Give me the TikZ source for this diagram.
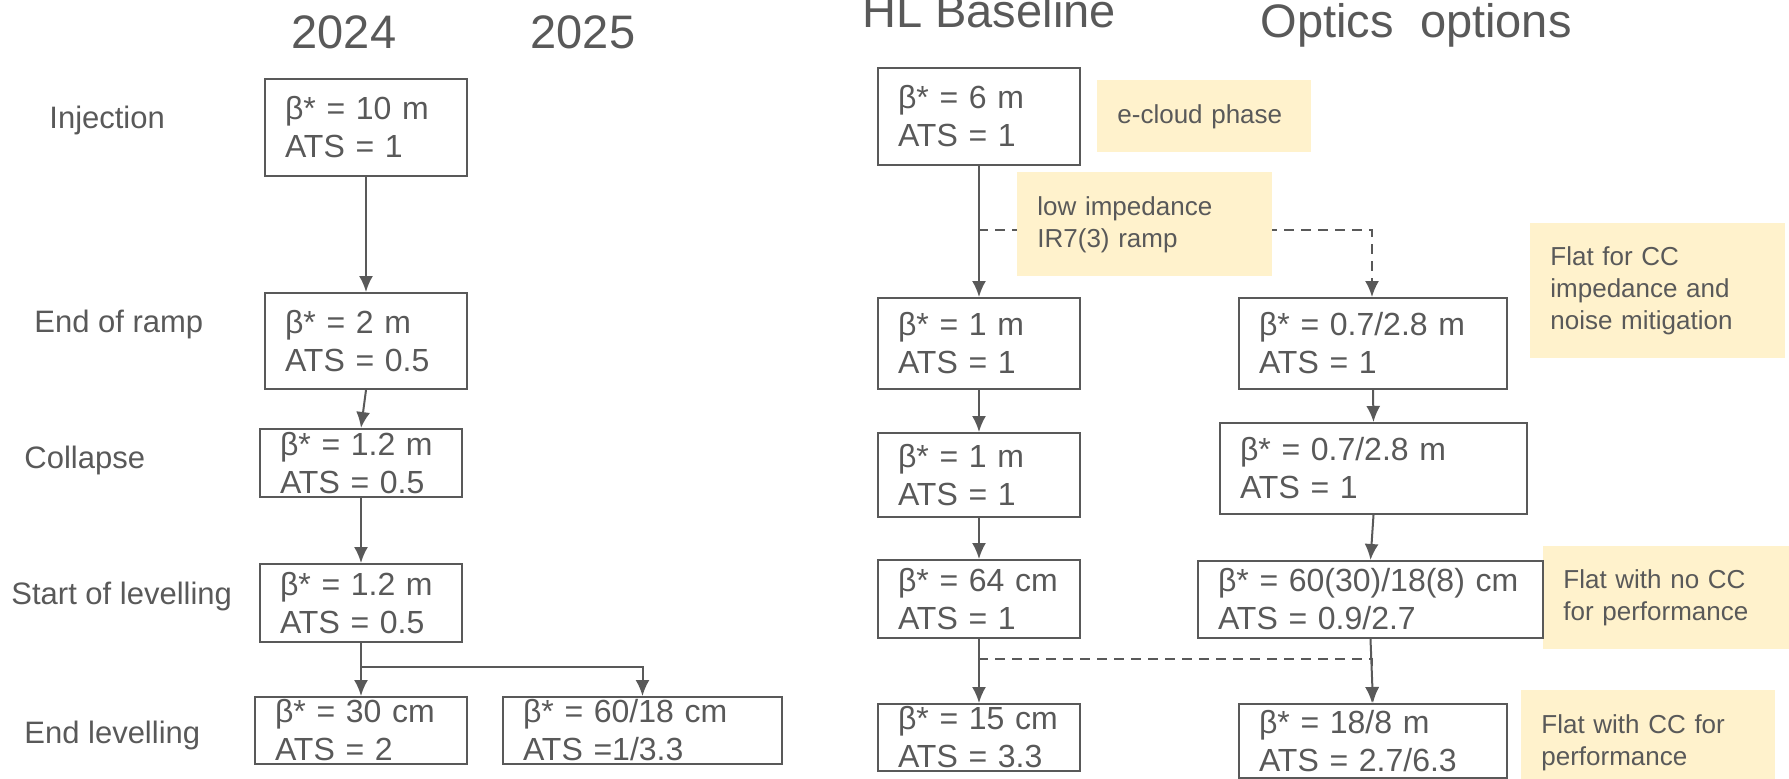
\documentclass[tikz,border=0pt]{standalone}
\usepackage{fontspec}
\setmainfont{Liberation Sans}
\usetikzlibrary{arrows.meta}
\definecolor{txt}{HTML}{595959}
\definecolor{notefill}{HTML}{FFF2CC}
\begin{document}
\begin{tikzpicture}[x=0.5pt,y=-0.5pt,
  every node/.style={text=txt},
  box/.style={draw=txt, line width=1pt, fill=white, anchor=north west, inner xsep=10pt, inner ysep=0pt,
    align=left, font=\fontsize{16}{19}\selectfont},
  notebox/.style={fill=notefill, anchor=north west, inner xsep=10pt, inner ysep=0pt,
    align=left, font=\fontsize{13}{16}\selectfont},
  lbl/.style={anchor=base west, inner sep=0pt, font=\fontsize{15.5}{19}\selectfont},
  head/.style={inner sep=0pt, font=\fontsize{23.5}{28}\selectfont},
  arr/.style={draw=txt, line width=1pt, -{Latex[length=8pt,width=7pt]}},
  darr/.style={arr, dash pattern=on 5pt off 3.5pt}]
\useasboundingbox (0,0) rectangle (1789,778);
\clip (0,0) rectangle (1789,778);

% headings
\node[head, anchor=base] (h2024) at (344,48) {2024};
\node[head, anchor=base] (h2025) at (583,48) {2025};
\node[head, anchor=base west] (hHL) at (862,27) {HL Baseline};
\node[head, anchor=base east] (hOpt) at (1572,37) {Optics\ \ options};

% row labels
\node[lbl] (lInj) at (49,128) {Injection};
\node[lbl] (lRamp) at (34,332) {End of ramp};
\node[lbl] (lColl) at (24,468) {Collapse};
\node[lbl] (lStart) at (11,604) {Start of levelling};
\node[lbl] (lEnd) at (24,743) {End levelling};

% dashed connectors (under the notes)
\coordinate (d1) at (978,230);
\coordinate (d2) at (978,659);
\draw[darr] (d1) -| (1372,297);
\draw[darr] (d2) -| (1372,703);

% notes
\node[notebox, text width=87pt, minimum height=36pt] (n1) at (1097,80) {e-cloud phase};
\node[notebox, text width=107.5pt, minimum height=52pt] (n2) at (1017,172) {low impedance\\IR7(3) ramp};
\node[notebox, text width=107.5pt, minimum height=67.5pt] (n3) at (1530,223) {Flat for CC\\impedance and\\noise mitigation};
\node[notebox, text width=103pt, minimum height=51.5pt] (n4) at (1543,546) {Flat with no CC\\for performance};
\node[notebox, text width=107pt, minimum height=52.5pt] (n5) at (1521,690) {Flat with CC for\\performance};

% left column (2024 / 2025)
\node[box, text width=81pt, minimum height=48.5pt] (A) at (264,78) {β* = 10 m\\ATS = 1};
\node[box, text width=81pt, minimum height=48pt] (B) at (264,292) {β* = 2 m\\ATS = 0.5};
\node[box, text width=81pt, minimum height=34pt] (C) at (259,428) {β* = 1.2 m\\ATS = 0.5};
\node[box, text width=81pt, minimum height=39pt] (D) at (259,563) {β* = 1.2 m\\ATS = 0.5};
\node[box, text width=86pt, minimum height=33.5pt] (E) at (254,696) {β* = 30 cm\\ATS = 2};
\node[box, text width=119.5pt, minimum height=33.5pt] (F) at (502,696) {β* = 60/18 cm\\ATS =1/3.3};

% HL baseline column
\node[box, text width=81pt, minimum height=48.5pt] (H1) at (877,67) {β* = 6 m\\ATS = 1};
\node[box, text width=81pt, minimum height=45.5pt] (H2) at (877,297) {β* = 1 m\\ATS = 1};
\node[box, text width=81pt, minimum height=42pt] (H3) at (877,432) {β* = 1 m\\ATS = 1};
\node[box, text width=81pt, minimum height=39pt] (H4) at (877,559) {β* = 64 cm\\ATS = 1};
\node[box, text width=81pt, minimum height=33.5pt] (H5) at (877,703) {β* = 15 cm\\ATS = 3.3};

% optics options column
\node[box, text width=114pt, minimum height=45.5pt] (O1) at (1238,297) {β* = 0.7/2.8 m\\ATS = 1};
\node[box, text width=133.5pt, minimum height=45.5pt] (O2) at (1219,422) {β* = 0.7/2.8 m\\ATS = 1};
\node[box, text width=152.5pt, minimum height=38.5pt] (O3) at (1197,560) {β* = 60(30)/18(8) cm\\ATS = 0.9/2.7};
\node[box, text width=114pt, minimum height=37pt] (O4) at (1238,703) {β* = 18/8 m\\ATS = 2.7/6.3};

% solid connectors
\coordinate (j) at (360,667);
\draw[arr] (A.south) -- (B.north);
\draw[arr] (B.south) -- (C.north);
\draw[arr] (C.south) -- (D.north);
\draw[arr] (D.south) -- (E.north);
\draw[arr] (j) -| (F.north);

\draw[arr] (H1.south) -- (H2.north);
\draw[arr] (H2.south) -- (H3.north);
\draw[arr] (H3.south) -- (H4.north);
\draw[arr] (H4.south) -- (H5.north);

\draw[arr] (O1.south) -- (O2.north);
\draw[arr] (O2.south) -- (O3.north);
\draw[arr] (O3.south) -- (O4.north);
\end{tikzpicture}
\end{document}
